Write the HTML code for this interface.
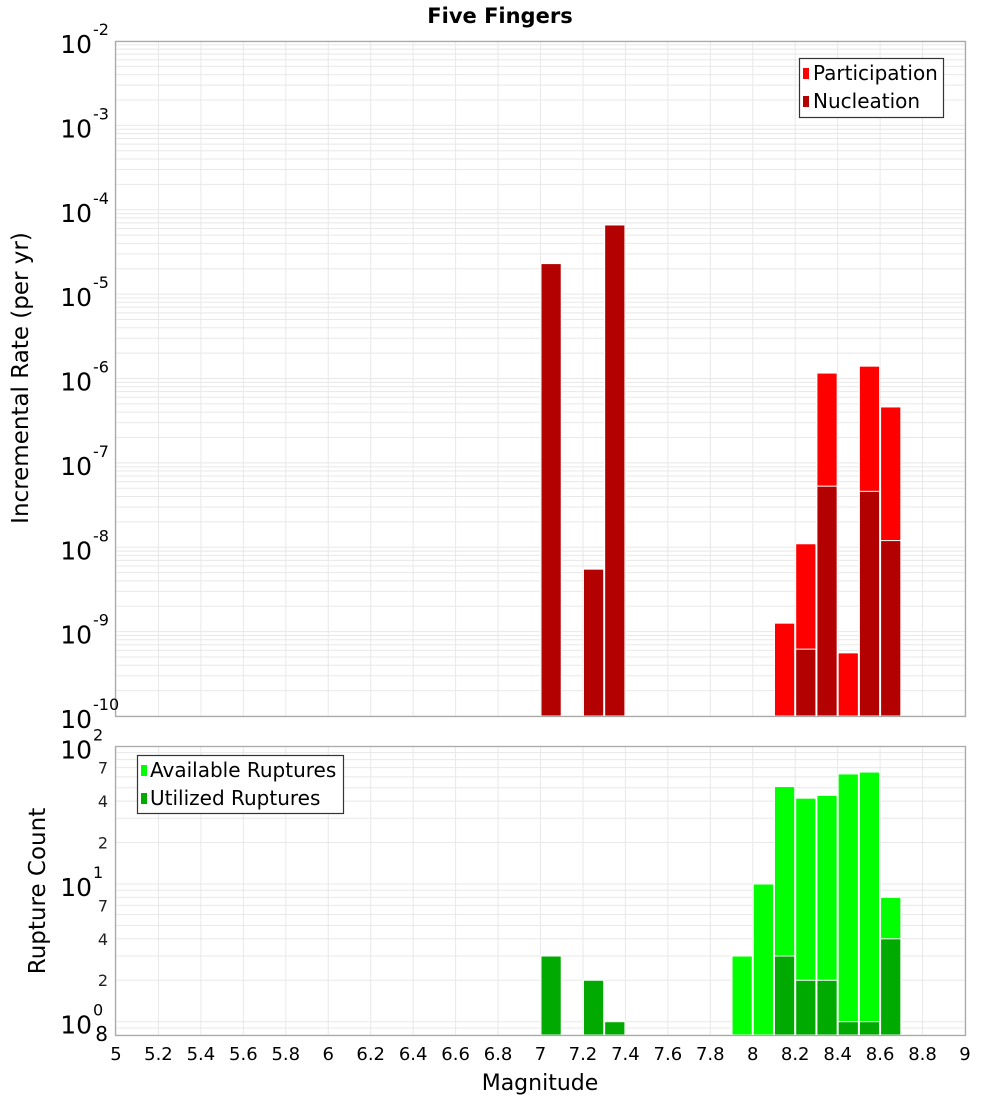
<!DOCTYPE html>
<html><head><meta charset="utf-8"><style>
body{margin:0;background:#fff;font-family:"Liberation Sans","DejaVu Sans",sans-serif}
svg text{font-family:"DejaVu Sans","Liberation Sans",sans-serif}
</style></head><body>
<svg id="c" width="1000" height="1100" xmlns="http://www.w3.org/2000/svg">
<text x="500" y="23" text-anchor="middle" font-size="21" font-weight="bold">Five Fingers</text>
<g id="gtop"></g>
<g id="gbot"></g>
<text x="28" y="378" transform="rotate(-90 28 378)" text-anchor="middle" font-size="23">Incremental Rate (per yr)</text>
<text x="45" y="891" transform="rotate(-90 45 891)" text-anchor="middle" font-size="23">Rupture Count</text>
<text x="540" y="1090" text-anchor="middle" font-size="22">Magnitude</text>
<g>
<rect x="799.5" y="58.5" width="144" height="59" fill="#fff" stroke="#333" stroke-width="1.2"/>
<rect x="803" y="68" width="6" height="11" fill="#ff0000"/>
<text x="813" y="80" font-size="20">Participation</text>
<rect x="803" y="96" width="6" height="11" fill="#b30000"/>
<text x="813" y="108" font-size="20">Nucleation</text>
</g>
<g>
<rect x="137.5" y="755.5" width="206" height="58" fill="#fff" stroke="#333" stroke-width="1.2"/>
<rect x="141" y="765" width="6" height="11" fill="#00ff00"/>
<text x="150" y="777" font-size="20">Available Ruptures</text>
<rect x="141" y="793" width="6" height="11" fill="#00aa00"/>
<text x="150" y="805" font-size="20">Utilized Ruptures</text>
</g>
</svg>
<script>
const mags = [7.0,7.2,7.3,8.1,8.2,8.3,8.4,8.5,8.6];
const participation = [2.3e-5,5.5e-9,6.6e-5,1.26e-9,1.1e-8,1.16e-6,5.6e-10,1.4e-6,4.6e-7];
const nucleation = [2.3e-5,5.5e-9,6.6e-5,0,6.2e-10,5.3e-8,0,4.6e-8,1.2e-8];
const countMags = [7.0,7.2,7.3,7.9,8.0,8.1,8.2,8.3,8.4,8.5,8.6];
const available = [0,0,0,3,10,51,42,44,63,65,8];
const utilized = [3,2,1,0,0,3,2,2,1,1,4];
const xTicks = ["5","5.2","5.4","5.6","5.8","6","6.2","6.4","6.6","6.8","7","7.2","7.4","7.6","7.8","8","8.2","8.4","8.6","8.8","9"];
const rateExps = [-10,-9,-8,-7,-6,-5,-4,-3,-2];
const countExps = [0,1,2];
const countMinorLabels = [2,4,7];

const NS="http://www.w3.org/2000/svg";
const L=116,R=965;
const xs=m=>L+(m-5)/4*(R-L);
const T1=41,B1=716;
const y1=v=>B1-(Math.log10(v)+10)/8*(B1-T1);
const T2=747,B2=1035, y1c=1021.7, dec=137.7;
const y2=v=>y1c-Math.log10(v)*dec;
function mk(p,tag,a,txt){const e=document.createElementNS(NS,tag);for(const k in a)e.setAttribute(k,a[k]);if(txt!=null)e.textContent=txt;p.appendChild(e);return e;}
const gTop=document.getElementById('gtop'),gBot=document.getElementById('gbot'),svgEl=document.getElementById('c');
function grid(g,T,B,yfun,lo,hi){
  for(let e=lo;e<hi;e++)for(let k=1;k<10;k++){const y=yfun(k*Math.pow(10,e));if(y<T-0.5||y>B+0.5)continue;
    const ln=mk(g,'line',{x1:L,x2:R,y1:y,y2:y,stroke:'#e8e8e8','stroke-width':1});
    
    }
  xTicks.forEach(t=>{const x=xs(+t);const ln=mk(g,'line',{x1:x,x2:x,y1:T,y2:B,stroke:'#e8e8e8','stroke-width':1});
    
    });
}
grid(gTop,T1,B1,y1,-10,-1);
grid(gBot,T2,B2,y2,-1,3);
const bw=(R-L)/40;
function bar(g,m,v,base,fill,name){if(!(v>0))return;const yy=(g===gTop?y1(v):y2(v));const x=xs(m);
  const r=mk(g,'rect',{x:x+0.5,y:yy,width:bw-1,height:base-yy,fill:fill,stroke:'#fff','stroke-width':1});
  
  }
mags.forEach((m,i)=>bar(gTop,m,participation[i],B1,'#ff0000','participation-bar'));
mags.forEach((m,i)=>bar(gTop,m,nucleation[i],B1,'#b30000','nucleation-bar'));
countMags.forEach((m,i)=>bar(gBot,m,available[i],B2,'#00ff00','available-bar'));
countMags.forEach((m,i)=>bar(gBot,m,utilized[i],B2,'#00aa00','utilized-bar'));
mk(gTop,'rect',{x:L-0.5,y:T1+0.5,width:R-L+1,height:B1-T1,fill:'none',stroke:'#aaa','stroke-width':1.3});
mk(gBot,'rect',{x:L-0.5,y:T2-0.5,width:R-L+1,height:B2-T2+1,fill:'none',stroke:'#aaa','stroke-width':1.3});
function expLabel(y,e){const t=mk(svgEl,'text',{x:92,y:y+12,'text-anchor':'end','font-size':25});
  
  
  t.textContent='10';
  const s=mk(svgEl,'text',{x:93,y:y-6,'font-size':16},String(e));
  
  }
rateExps.forEach(e=>expLabel(y1(Math.pow(10,e)),e));
countExps.forEach(e=>expLabel(y2(Math.pow(10,e)),e));
[1,10].forEach(b=>countMinorLabels.forEach(k=>{const t=mk(svgEl,'text',{x:108,y:y2(k*b)+6,'text-anchor':'end','font-size':16,fill:'#222'},String(k));
  
  }));
{const t=mk(svgEl,'text',{x:108,y:1041,'text-anchor':'end','font-size':20},'8');
  
  }
xTicks.forEach(t=>{const e=mk(svgEl,'text',{x:xs(+t),y:1060,'text-anchor':'middle','font-size':18},t);
  
  });
</script>
</body></html>
